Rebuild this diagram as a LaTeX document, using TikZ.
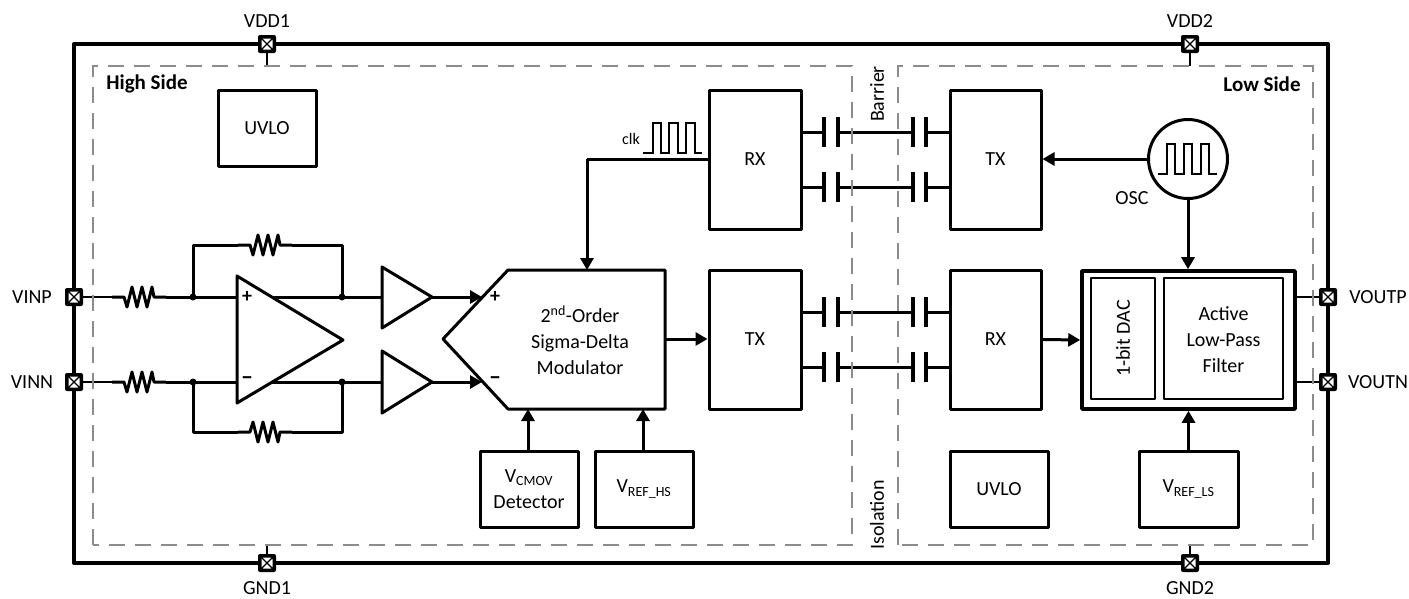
\documentclass[tikz,border=0pt]{standalone}
\usepackage{fontspec}
\setmainfont{Carlito}
\usetikzlibrary{arrows.meta}
\tikzset{
  wire/.style={line width=3pt},
  thinwire/.style={line width=2pt},
  sig/.style={line width=3pt,-{Triangle[length=12pt,width=13pt]}},
  block/.style={draw,line width=3pt,line join=round,align=center,inner sep=0pt},
  padbox/.style={fill=black,rounded corners=2pt,minimum size=18pt,inner sep=0pt,
    path picture={
      \fill[white] ([xshift=-5.5pt,yshift=-5.5pt]path picture bounding box.center) rectangle ++(11pt,11pt);
      \draw[line width=1.2pt] ([xshift=-5pt,yshift=-5pt]path picture bounding box.center) -- ++(10pt,10pt);
      \draw[line width=1.2pt] ([xshift=-5pt,yshift=5pt]path picture bounding box.center) -- ++(10pt,-10pt);
    }},
  plate/.style={line width=3.6pt},
  resistor/.pic={
    \coordinate (-in) at (-27,0);
    \coordinate (-out) at (27,0);
    \draw[wire,line join=round] (-27,0) -- (-15,0) -- (-12,10) -- (-7,-10) -- (-2,10) -- (3,-10)
      -- (8,10) -- (13,-10) -- (15,0) -- (27,0);
  },
}
\newcommand{\capair}[2]{% two coupling caps on one line
  \coordinate (#1a) at (824,#2); \coordinate (#1b) at (838,#2);
  \coordinate (#1c) at (913,#2); \coordinate (#1d) at (926,#2);
  \foreach \p in {824,838,913,926}{
    \draw[plate] (\p,#2-15) -- (\p,#2+15);
  }
  \draw[wire] (#1b) -- (#1c);
}
\begin{document}
\begin{tikzpicture}[x=1pt,y=-1pt,every node/.style={font=\fontsize{20}{26}\selectfont}]
  \useasboundingbox (0,0) rectangle (1409,598);
  % Package outline
  \draw[line width=4pt,line join=round] (74,44) rectangle (1328,563);

  % High side input stage
  \node[padbox] (vinp) at (74,297) {};
  \node[padbox] (vinn) at (74,382) {};
  \node (vinplabel) at (32,297) {VINP};
  \node (vinnlabel) at (32,382) {VINN};
  \pic (rinp) at (139,297) {resistor};
  \pic (rinn) at (139,382) {resistor};
  \pic (rfbp) at (265,245) {resistor};
  \pic[yscale=-1] (rfbn) at (265,432) {resistor};
  \coordinate (jpl) at (193,297);
  \coordinate (jpr) at (342,297);
  \coordinate (jnl) at (193,382);
  \coordinate (jnr) at (342,382);
  \coordinate (ampin) at (237,297);
  \coordinate (ampip) at (237,382);
  \coordinate (ampop) at (272,297);
  \coordinate (ampon) at (272,382);
  \draw[thinwire] (vinp) -- (rinp-in);
  \draw[thinwire] (vinn) -- (rinn-in);
  \draw[wire] (rinp-out) -- (jpl) -- (ampin);
  \draw[wire] (rinn-out) -- (jnl) -- (ampip);
  \draw[wire,line join=round] (jpl) |- (rfbp-in);
  \draw[wire,line join=round] (rfbp-out) -| (jpr);
  \draw[wire,line join=round] (jnl) |- (rfbn-in);
  \draw[wire,line join=round] (rfbn-out) -| (jnr);
  \foreach \j in {jpl,jpr,jnl,jnr}{
    \fill (\j) circle (3.5pt);
  }
  \draw[wire,line join=round] (237,276) -- (343,340) -- (237,403) -- cycle;
  \node (ampplus) at (247,297) {\textbf{+}};
  \node[font=\fontsize{24}{26}\selectfont] (ampminus) at (247,381) {\textbf{\textendash}};

  % Buffers
  \coordinate (bufpin) at (382,297);
  \coordinate (bufnin) at (382,382);
  \coordinate (bufpout) at (432,297);
  \coordinate (bufnout) at (432,382);
  \draw[wire] (ampop) -- (bufpin);
  \draw[wire] (ampon) -- (bufnin);
  \draw[wire,line join=round] (382,267) -- (bufpout) -- (382,328) -- cycle;
  \draw[wire,line join=round] (382,351) -- (bufnout) -- (382,413) -- cycle;

  % Modulator
  \draw[wire,line join=round] (508,270) -- (665,270) -- (665,409) -- (508,409) -- (443,339) -- cycle;
  \node[align=center] (mod) at (580,340) {2\textsuperscript{nd}-Order\\Sigma-Delta\\Modulator};
  \node (modplus) at (495,297) {\textbf{+}};
  \node[font=\fontsize{24}{26}\selectfont] (modminus) at (495,381) {\textbf{\textendash}};
  \coordinate (modinp) at (482,297);
  \coordinate (modinn) at (482,382);
  \coordinate (modout) at (665,339);
  \coordinate (modclk) at (587,270);
  \coordinate (modcm) at (528,409);
  \coordinate (modref) at (643,409);
  \draw[sig] (bufpout) -- (modinp);
  \draw[sig] (bufnout) -- (modinn);

  \node[block,minimum width=98pt,minimum height=76pt] (cmov) at (529,489) {V\textsubscript{CMOV}\\Detector};
  \node[block,minimum width=98pt,minimum height=76pt] (refhs) at (644,489) {V\textsubscript{REF\_HS}};
  \node[block,minimum width=98pt,minimum height=76pt] (uvlohs) at (267,128) {UVLO};
  \draw[sig] (cmov.north -| modcm) -- (modcm);
  \draw[sig] (refhs.north -| modref) -- (modref);

  % Isolation channels
  \node[block,minimum width=92pt,minimum height=139pt] (rxhs) at (755,159.5) {RX};
  \node[block,minimum width=91pt,minimum height=139pt] (txls) at (995.5,159.5) {TX};
  \node[block,minimum width=92pt,minimum height=139pt] (txhs) at (755,339.5) {TX};
  \node[block,minimum width=91pt,minimum height=139pt] (rxls) at (995.5,339.5) {RX};
  \capair{ca}{132}
  \capair{cb}{187}
  \capair{cc}{312}
  \capair{cd}{367}
  \foreach \c/\a/\b in {ca/rxhs/txls,cb/rxhs/txls,cc/txhs/rxls,cd/txhs/rxls}{
    \draw[wire] (\c a -| \a.east) -- (\c a);
    \draw[wire] (\c d) -- (\c d -| \b.west);
  }
  \draw[sig] (modout) -- (txhs.west |- modout);

  % Clock
  \coordinate (clkbend) at (587,159);
  \draw[wire] (rxhs.west |- clkbend) -- (clkbend);
  \draw[sig] (clkbend) -- (modclk);
  \node[font=\fontsize{16}{18}\selectfont] (clklabel) at (631,139) {clk};
  \draw[thinwire] (643,153) -- (653,153) -- (653,123) -- (661,123) -- (661,153) -- (669,153) -- (669,123)
    -- (678,123) -- (678,153) -- (686,153) -- (686,123) -- (695,123) -- (695,153) -- (702,153);

  % Oscillator
  \node[draw,line width=3pt,circle,minimum size=79pt,inner sep=0pt] (osc) at (1188,159) {};
  \draw[thinwire] (1158,174) -- (1167,174) -- (1167,144) -- (1175,144) -- (1175,174) -- (1184,174) -- (1184,144)
    -- (1192,144) -- (1192,174) -- (1201,174) -- (1201,144) -- (1209,144) -- (1209,174) -- (1217,174);
  \node (osclabel) at (1132,198) {OSC};
  \draw[sig] (osc.west) -- (txls.east |- osc.west);

  % Output filter
  \node[block,line width=3.6pt,minimum width=213pt,minimum height=138pt] (filt) at (1188.5,340) {};
  \node[block,line width=2.2pt,minimum width=64pt,minimum height=121pt] (dac) at (1123,338.5) {\rotatebox{90}{1-bit DAC}};
  \node[block,line width=2.2pt,minimum width=119pt,minimum height=121pt] (lpf) at (1223.5,338.5) {};
  \node[align=center] (lpftext) at (1223.5,340) {Active\\Low-Pass\\Filter};
  \node[block,minimum width=99pt,minimum height=76pt] (refls) at (1188.5,489) {V\textsubscript{REF\_LS}};
  \node[block,minimum width=98pt,minimum height=76pt] (uvlols) at (999,489) {UVLO};
  \draw[sig] (osc.south) -- (filt.north -| osc.south);
  \draw[sig] (refls.north) -- (filt.south -| refls.north);
  \draw[sig] (rxls.east) -- (filt.west);
  \node[padbox] (voutp) at (1328,297) {};
  \node[padbox] (voutn) at (1328,382) {};
  \node (voutplabel) at (1378,297) {VOUTP};
  \node (voutnlabel) at (1378,382) {VOUTN};
  \draw[thinwire] (filt.east |- voutp) -- (voutp);
  \draw[thinwire] (filt.east |- voutn) -- (voutn);

  % Supply pads
  \coordinate (hstop) at (267,66);
  \coordinate (lstop) at (1190,66);
  \coordinate (hsbot) at (267,545);
  \coordinate (lsbot) at (1190,545);
  \node[padbox] (vdda) at (267,44) {};
  \node[padbox] (vddb) at (1190,44) {};
  \node[padbox] (gnda) at (267,563) {};
  \node[padbox] (gndb) at (1190,563) {};
  \node (vddalabel) at (267,21) {VDD1};
  \node (vddblabel) at (1190,21) {VDD2};
  \node (gndalabel) at (267,588.5) {GND1};
  \node (gndblabel) at (1190,588.5) {GND2};
  \draw[thinwire] (vdda) -- (hstop);
  \draw[thinwire] (vddb) -- (lstop);
  \draw[thinwire] (gnda) -- (hsbot);
  \draw[thinwire] (gndb) -- (lsbot);

  % Side frames
  \draw[line width=2pt,gray!90,dash pattern=on 16pt off 10pt] (93,545) -- (93,66) -- (852,66) -- (852,545) -- cycle;
  \draw[line width=2pt,gray!90,dash pattern=on 16pt off 10pt] (898,545) -- (898,66) -- (1313,66) -- (1313,545) -- cycle;
  \node[font=\fontsize{21}{24}\selectfont\bfseries] (hslabel) at (147,84) {High Side};
  \node[font=\fontsize{21}{24}\selectfont\bfseries] (lslabel) at (1262,84) {Low Side};
  \node[rotate=90] (barrier) at (877,94) {Barrier};
  \node[rotate=90] (isolation) at (877,515) {Isolation};
\end{tikzpicture}
\end{document}
